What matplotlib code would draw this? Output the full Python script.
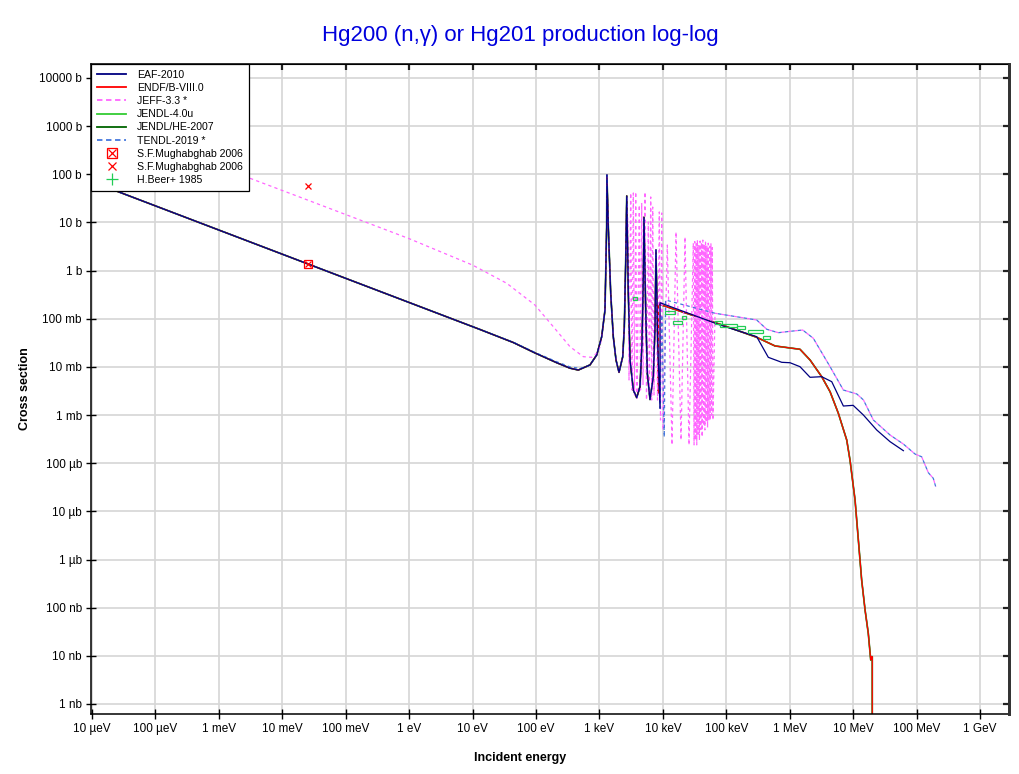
import matplotlib
matplotlib.use("Agg")
import matplotlib.pyplot as plt
from matplotlib.lines import Line2D
from matplotlib.patches import Rectangle
from matplotlib.legend_handler import HandlerTuple

plt.rcParams['font.family'] = ['Liberation Sans', 'DejaVu Sans']

# energies in eV, cross sections in barns

# 1/v region + resolved resonances (ENDF/B-VIII.0, JENDL, EAF share this)
low_E = [1e-5, 13, 44, 96, 212, 343, 464]
low_xs = [70, 0.060, 0.032, 0.0195, 0.0122, 0.0094, 0.0086]

res_E = [710, 906, 1085, 1222, 1298, 1310, 1378, 1503, 1652, 1824, 2033, 2328,
         2466, 2594, 2692, 2851, 3033, 3420, 3864, 4356, 4688, 4914, 5036, 5356,
         5680, 6266, 7063, 7516, 7780, 8279]
res_xs = [0.011, 0.0177, 0.0424, 0.152, 8.0, 97, 8.2, 0.343, 0.0424, 0.0139, 0.0077, 0.0163,
          0.0684, 1.66, 35.4, 0.343, 0.0139, 0.0033, 0.0023, 0.0039, 0.0313, 0.75, 12.8, 0.152,
          0.0074, 0.0021, 0.0063, 0.068, 2.68, 0.031]

# ENDF/B-VIII.0 (JENDL-4.0u and JENDL/HE-2007 follow it)
endf_hi_E = [8472, 8472, 79600, 301000, 586000, 1.45e6, 2.09e6, 3.19e6, 4.32e6, 5.83e6,
             7.91e6, 8.91e6, 1.07e7, 1.36e7, 1.54e7, 1.73e7, 1.89e7, 1.95e7, 2.0e7, 2.0e7, 1.5e8]
endf_hi_xs = [0.0029, 0.202, 0.0767, 0.0412, 0.0272, 0.0232, 0.0139, 6.26e-3, 3.05e-3, 1.09e-3,
              3.03e-4, 1.16e-4, 1.72e-5, 3.75e-7, 8.9e-8, 2.93e-8, 8.2e-9, 9.6e-9, 9.6e-9, 1e-14, 1e-14]
jendlhe_tail_E = [1.5e8, 3e9]
jendlhe_tail_xs = [1e-14, 1e-14]

# EAF-2010
eaf_hi_E = [9016, 9016, 79600, 301000, 459000, 747000, 1.01e6, 1.45e6, 2.09e6, 3.19e6,
            4.59e6, 7.0e6, 1.0e7, 1.45e7, 2.35e7, 3.81e7, 6.18e7]
eaf_hi_xs = [1.38e-3, 0.215, 0.0741, 0.0424, 0.0158, 0.01245, 0.0122, 0.0101, 6.08e-3, 6.26e-3,
             4.93e-3, 1.54e-3, 1.59e-3, 1.0e-3, 4.89e-4, 2.80e-4, 1.82e-4]

# JEFF-3.3 *
jeff_low_E = [1e-5, 0.0253, 1, 10, 34.5, 96, 187, 343, 556, 755, 906, 1020,
              1085, 1222, 1298, 1310, 1378, 1503, 1652, 1824, 2033, 2328, 2466, 2594, 2692]
jeff_low_xs = [1440, 29, 4.6, 1.3, 0.545, 0.193, 0.0684, 0.0263, 0.0163, 0.0158, 0.0192, 0.026,
               0.0424, 0.152, 8.0, 97, 8.2, 0.343, 0.0424, 0.0139, 0.0077, 0.0163, 0.0684, 1.66, 35.4]
jeff_mid_E = [2818, 2923, 3109, 3260, 3418, 3568, 3727, 3908, 4248, 4437, 4634, 4859,
              5224, 5516, 5890, 6108, 6426, 6663, 6910, 7244, 7791, 8228, 8780, 9171,
              9579, 10040, 11740, 13920, 16100, 19310, 22320, 25800, 30170]
jeff_mid_xs = [8.05, 5.35e-3, 40.9, 3.31e-3, 40.9, 2.61e-3, 42.9, 2.05e-3, 23.0, 3.31e-3, 25.4, 4.21e-3,
               42.9, 2.05e-3, 10.2, 2.61e-3, 33.8, 2.05e-3, 20.9, 2.61e-3, 2.68, 2.05e-3, 16.5, 7.9e-4,
               15.7, 4.9e-4, 3.4, 2.39e-4, 6.34, 3.03e-4, 4.99, 2.39e-4, 3.74]
jeff_dense_E = [31000, 31800, 32600, 33400, 34200, 35000, 35900, 36800, 37700, 38600,
                39600, 40600, 41600, 42600, 43700, 44800, 45900, 47000, 48200, 49400,
                50600, 51900, 53200, 54500, 55800, 57200, 58600, 60100, 61600]
jeff_dense_xs = [2.4e-4, 4.0, 3.0e-4, 3.6, 2.4e-4, 4.3, 4.0e-4, 3.4, 3.0e-4, 4.1,
                 5.0e-4, 3.8, 3.5e-4, 4.3, 6.0e-4, 3.5, 4.9e-4, 3.9, 7.0e-4, 3.3,
                 5.5e-4, 3.7, 8.0e-4, 3.2, 7.9e-4, 3.6, 1.0e-3, 3.0, 7.9e-4]

# JEFF-3.3 and TENDL-2019 above the resonance region
hi_E = [66300, 301000, 434000, 661000, 1.01e6, 1.60e6, 2.35e6, 4.32e6, 7.0e6, 1.14e7,
        1.45e7, 2.08e7, 3.81e7, 6.18e7, 9.44e7, 1.20e8, 1.53e8, 1.83e8, 2.0e8]
hi_xs = [0.130, 0.0942, 0.0604, 0.0513, 0.0548, 0.0583, 0.0393, 0.0101, 3.31e-3, 2.74e-3,
         2.06e-3, 7.89e-4, 3.85e-4, 2.5e-4, 1.55e-4, 1.36e-4, 6.35e-5, 4.86e-5, 3.25e-5]

# TENDL-2019 *
tendl_low_E = [1e-5, 13, 44, 96, 212, 343, 500, 640]
tendl_low_xs = [70, 0.060, 0.0325, 0.020, 0.0128, 0.0100, 0.0093, 0.0103]
tendl_mid_E = [9016, 9600, 10500, 11000]
tendl_mid_xs = [1.38e-3, 0.12, 3.5e-4, 0.245]

# S.F.Mughabghab 2006 (thermal)
mug_E = [0.0253]
mug_box_xs = [1.4]
mug_x_xs = [57]

# H.Beer+ 1985
beer_E_lo = [3420, 10800, 14440, 20020, 66300, 79600, 147000, 220000, 379000]
beer_E_hi = [3950, 15520, 20020, 23200, 85500, 147000, 196000, 379000, 491000]
beer_xs_lo = [0.25, 0.126, 0.0778, 0.097, 0.078, 0.0675, 0.0613, 0.0506, 0.0381]
beer_xs_hi = [0.28, 0.145, 0.0898, 0.112, 0.090, 0.0778, 0.0707, 0.0584, 0.0438]

x_ticks = [1e-5, 1e-4, 1e-3, 1e-2, 1e-1, 1, 10, 100, 1e3, 1e4, 1e5, 1e6, 1e7, 1e8, 1e9]
x_labels = ['10 µeV', '100 µeV', '1 meV', '10 meV', '100 meV', '1 eV', '10 eV', '100 eV',
            '1 keV', '10 keV', '100 keV', '1 MeV', '10 MeV', '100 MeV', '1 GeV']
y_ticks = [1e-9, 1e-8, 1e-7, 1e-6, 1e-5, 1e-4, 1e-3, 1e-2, 1e-1, 1, 10, 100, 1000, 10000]
y_labels = ['1 nb', '10 nb', '100 nb', '1 µb', '10 µb', '100 µb', '1 mb', '10 mb', '100 mb',
            '1 b', '10 b', '100 b', '1000 b', '10000 b']

c_eaf = '#000080'
c_endf = '#ff0000'
c_jeff = '#ff66ff'
c_j4 = '#33cc33'
c_jhe = '#006400'
c_tendl = '#4477dd'
c_beer = '#22cc55'

fig = plt.figure(figsize=(10.2, 7.74), dpi=100)
ax = fig.add_axes([91 / 1020, 60 / 774, 918 / 1020, 650 / 774])
ax.set_xscale('log')
ax.set_yscale('log')
ax.set_xlim(9.64e-6, 2.86e9)
ax.set_ylim(6.19e-10, 1.95e4)

solid_E = low_E + res_E
solid_xs = low_xs + res_xs
lw = 0.9

ax.plot(solid_E + endf_hi_E + jendlhe_tail_E, solid_xs + endf_hi_xs + jendlhe_tail_xs,
        color=c_jhe, lw=lw + 0.3, zorder=2)
ax.plot(solid_E + endf_hi_E, solid_xs + endf_hi_xs, color=c_j4, lw=lw, zorder=2.1)
ax.plot(solid_E + endf_hi_E, solid_xs + endf_hi_xs, color=c_endf, lw=lw, zorder=2.2)

jeff_E = jeff_low_E + jeff_mid_E + jeff_dense_E + hi_E
jeff_xs = jeff_low_xs + jeff_mid_xs + jeff_dense_xs + hi_xs
ax.plot(jeff_E, jeff_xs, color=c_jeff, lw=lw, ls=(0, (2.6, 2.6)), zorder=2.3)

tendl_E = tendl_low_E + res_E + tendl_mid_E + hi_E
tendl_xs = tendl_low_xs + res_xs + tendl_mid_xs + hi_xs
ax.plot(tendl_E, tendl_xs, color=c_tendl, lw=lw, ls=(2.6, (2.6, 2.6)), zorder=2.4)

ax.plot(solid_E + eaf_hi_E, solid_xs + eaf_hi_xs, color=c_eaf, lw=lw, zorder=2.5)

for e0, e1, s0, s1 in zip(beer_E_lo, beer_E_hi, beer_xs_lo, beer_xs_hi):
    ax.add_patch(Rectangle((e0, s0), e1 - e0, s1 - s0, facecolor='none',
                           edgecolor=c_beer, lw=0.9, zorder=3))

ax.plot(mug_E, mug_box_xs, 's', ms=6, mfc='none', mec=c_endf, mew=0.9, zorder=4)
ax.plot(mug_E, mug_box_xs, 'x', ms=5, color=c_endf, mew=0.9, zorder=4)
ax.plot(mug_E, mug_x_xs, 'x', ms=5, color=c_endf, mew=0.9, zorder=4)

ax.set_xticks(x_ticks)
ax.set_xticklabels(x_labels)
ax.set_yticks(y_ticks)
ax.set_yticklabels(y_labels)
ax.minorticks_off()
ax.tick_params(axis='both', which='major', direction='inout', length=7, width=1,
               labelsize=8.5, color='black', pad=3)
ax.grid(True, color='#d6d6d6', lw=1.2, zorder=0)
ax.set_axisbelow(True)
for sp in ax.spines.values():
    sp.set_linewidth(1.1)
    sp.set_color('black')
ax.spines['right'].set_color('#333333')
ax.spines['right'].set_linewidth(2)

# inward ticks on top and right
top = ax.secondary_xaxis('top')
top.set_xticks(x_ticks)
top.minorticks_off()
top.tick_params(direction='in', length=4, width=1.6, color='#222222', labeltop=False)
top.set_zorder(6)
right = ax.secondary_yaxis('right')
right.set_yticks(y_ticks)
right.minorticks_off()
right.tick_params(direction='in', length=4, width=1.6, color='#222222', labelright=False)
right.spines['right'].set_color('#333333')
right.spines['right'].set_linewidth(2)
right.set_zorder(6)

handles = [
    Line2D([], [], color=c_eaf, lw=1.3),
    Line2D([], [], color=c_endf, lw=1.3),
    Line2D([], [], color=c_jeff, lw=1.3, ls=(0, (3, 2))),
    Line2D([], [], color=c_j4, lw=1.3),
    Line2D([], [], color=c_jhe, lw=1.3),
    Line2D([], [], color=c_tendl, lw=1.3, ls=(0, (3, 2))),
    (Line2D([], [], ls='none', marker='s', ms=7, mfc='none', mec=c_endf, mew=0.9),
     Line2D([], [], ls='none', marker='x', ms=6, color=c_endf, mew=0.9)),
    Line2D([], [], ls='none', marker='x', ms=6, color=c_endf, mew=0.9),
    Line2D([], [], ls='none', marker='+', ms=8, color=c_beer, mew=0.9),
]
labels = ['EAF-2010', 'ENDF/B-VIII.0', 'JEFF-3.3 *', 'JENDL-4.0u', 'JENDL/HE-2007',
          'TENDL-2019 *', 'S.F.Mughabghab 2006', 'S.F.Mughabghab 2006', 'H.Beer+ 1985']
leg = ax.legend(handles, labels, loc='upper left', bbox_to_anchor=(0, 1), borderaxespad=0,
                fontsize=7.6, handlelength=2.8, handletextpad=1.0, labelspacing=0.3,
                borderpad=0.55, fancybox=False, framealpha=1, edgecolor='black',
                handler_map={tuple: HandlerTuple(ndivide=1)})
leg.get_frame().set_linewidth(0.9)
leg.set_zorder(10)

fig.text(520 / 1020, 1 - 35 / 774, 'Hg200 (n,γ) or Hg201 production log-log',
         ha='center', va='center', fontsize=16, color='#0000dd')
fig.text(520 / 1020, 1 - 758 / 774, 'Incident energy', ha='center', va='center',
         fontsize=9, fontweight='bold')
fig.text(25 / 1020, 1 - 389 / 774, 'Cross section', ha='center', va='center',
         fontsize=9, fontweight='bold', rotation=90)

fig.savefig('out.png', dpi=100)
